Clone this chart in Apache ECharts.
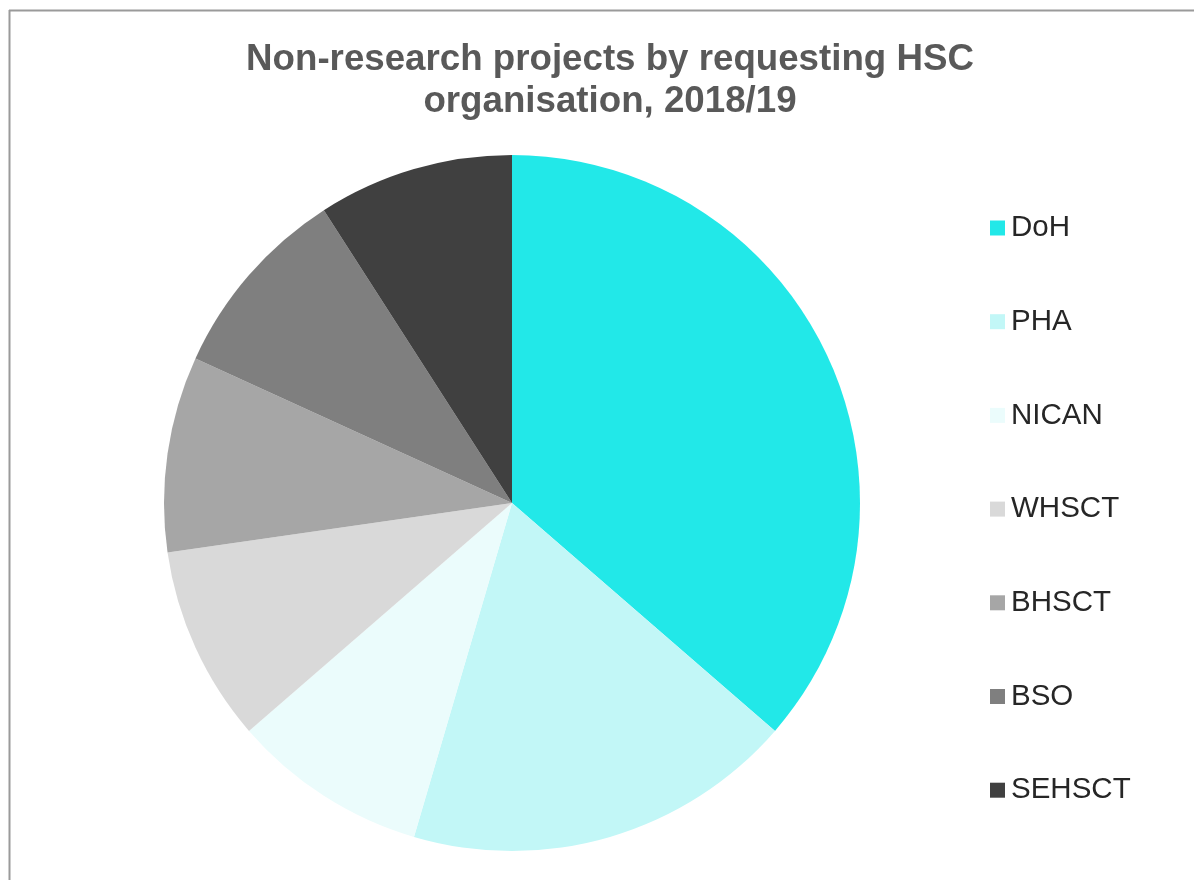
<!DOCTYPE html>
<html>
<head>
<meta charset="utf-8">
<script src="https://cdn.jsdelivr.net/npm/echarts@6/dist/echarts.min.js"></script>
<style>html,body{margin:0;padding:0;background:#fff}#c{width:1194px;height:880px}</style>
</head>
<body>
<div id="c"></div>
<script>
var categories = ['DoH', 'PHA', 'NICAN', 'WHSCT', 'BHSCT', 'BSO', 'SEHSCT'];
var values = [4, 2, 1, 1, 1, 1, 1];
var colors = ['#22E8E8', '#C2F7F7', '#EBFCFC', '#D9D9D9', '#A6A6A6', '#7F7F7F', '#404040'];
var titleText = 'Non-research projects by requesting HSC\norganisation, 2018/19';

var chart = echarts.init(document.getElementById('c'));
chart.setOption({
  animation: false,
  color: colors,
  title: {
    text: titleText,
    left: 605, textAlign: 'center',
    top: 34,
    textStyle: { fontFamily: 'Liberation Sans', fontWeight: 'bold', fontSize: 36.7, lineHeight: 42, color: '#595959' }
  },
  legend: {
    orient: 'vertical',
    left: 985, top: 208,
    itemWidth: 15, itemHeight: 15, itemGap: 63.7,
    icon: 'rect',
    textStyle: { fontFamily: 'Liberation Sans', fontSize: 29.5, lineHeight: 29, color: '#262626', padding: [0, 0, 0, 1] },
    data: categories
  },
  graphic: [
    { type: 'line', shape: { x1: 9.5, y1: 10, x2: 9.5, y2: 880 }, style: { stroke: '#9a9a9a', lineWidth: 2 } },
    { type: 'line', shape: { x1: 9, y1: 10.5, x2: 1194, y2: 10.5 }, style: { stroke: '#9a9a9a', lineWidth: 2 } }
  ],
  series: [{
    type: 'pie',
    center: [512, 503],
    radius: [0, 348],
    startAngle: 90,
    clockwise: true,
    label: { show: false },
    labelLine: { show: false },
    itemStyle: { borderWidth: 0 },
    emphasis: { disabled: true },
    data: categories.map(function (n, i) { return { name: n, value: values[i] }; })
  }]
});
</script>
</body>
</html>
